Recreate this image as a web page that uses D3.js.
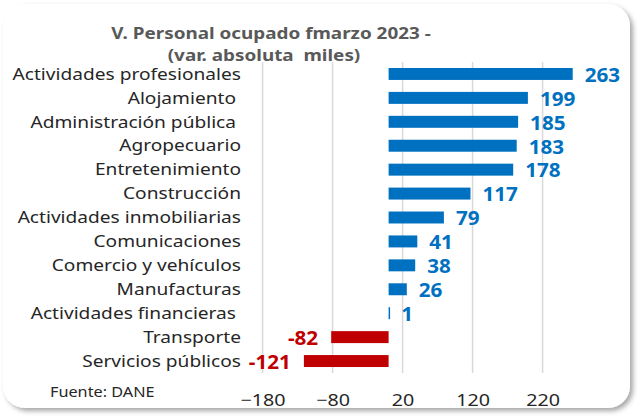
<!DOCTYPE html>
<html lang="en">
<head>
    <meta charset="utf-8">
    <title>Personal ocupado</title>
    <style>
        body{ margin:0; background:#fff; font-family: "Noto Sans", "Open Sans", sans-serif;}
        text{ white-space: pre; }
    </style>
    <script type="text/javascript" src="https://d3js.org/d3.v7.min.js"></script>
</head>
<body>
    <div class="chart"></div>

    <script type="text/javascript">
        // DATA ------------------------------
        const categories = ["Actividades profesionales", "Alojamiento ", "Administración pública ",
            "Agropecuario", "Entretenimiento", "Construcción", "Actividades inmobiliarias",
            "Comunicaciones", "Comercio y vehículos", "Manufacturas", "Actividades financieras ",
            "Transporte", "Servicios públicos"];
        const values = [263, 199, 185, 183, 178, 117, 79, 41, 38, 26, 1, -82, -121];
        const tickValues = [-180, -80, 20, 120, 220];
        const titleLines = ["V. Personal ocupado fmarzo 2023 -", "(var. absoluta  miles)"];
        const source = "Fuente: DANE";

        const data = categories.map((c, i) => ({cat: c, val: values[i]}));

        // CHART INIT ------------------------------
        const W = 639, H = 418;
        const plot = {left: 262.6, right: 598.6, top: 62, bottom: 373};
        const sx = 1.16; // the source text is a bit wider than it is tall

        // stretch text horizontally around its own x
        function stretch(sel, k) {
            sel.attr("transform", function() {
                const x = +d3.select(this).attr("x") || 0;
                const y = +d3.select(this).attr("y") || 0;
                return `translate(${x},${y}) scale(${k},1) translate(${-x},${-y})`;
            });
        }

        var svg = d3.select(".chart")
            .append("svg")
            .attr("width", W)
            .attr("height", H);

        // card with shadow
        var defs = svg.append("defs");
        var f = defs.append("filter").attr("id", "shadow")
            .attr("x", "-5%").attr("y", "-5%").attr("width", "110%").attr("height", "110%");
        f.append("feDropShadow")
            .attr("dx", 3).attr("dy", 3).attr("stdDeviation", 2.5)
            .attr("flood-color", "#000").attr("flood-opacity", 0.35);

        svg.append("rect")
            .attr("x", 3).attr("y", 4)
            .attr("width", 627).attr("height", 404)
            .attr("rx", 22)
            .attr("fill", "#fff")
            .attr("filter", "url(#shadow)");

        // scales
        var xScale = d3.scaleLinear()
            .domain([-180, 300])
            .range([plot.left, plot.right]);

        var yScale = d3.scaleBand()
            .domain(categories)
            .range([plot.top, plot.bottom])
            .paddingInner(0.5)
            .paddingOuter(0.25);

        // gridlines
        svg.append("g")
            .selectAll("line")
            .data(tickValues)
            .join("line")
            .attr("x1", d => xScale(d))
            .attr("x2", d => xScale(d))
            .attr("y1", plot.top)
            .attr("y2", plot.bottom)
            .attr("stroke", "#d9d9d9")
            .attr("stroke-width", 1.5);

        // x axis (labels only)
        const xAxis = d3.axisBottom(xScale)
            .tickValues(tickValues)
            .tickSize(0)
            .tickPadding(0);

        var xAxisDisplay = svg.append("g")
            .attr("class", "axis x-axis")
            .attr("transform", `translate(0, 394)`)
            .call(xAxis);
        xAxisDisplay.select(".domain").remove();
        xAxisDisplay.selectAll("text")
            .attr("font-family", "Noto Sans")
            .attr("font-size", 17)
            .attr("fill", "#262626")
            .attr("dy", "0.72em")
            .attr("transform", `scale(${sx},1)`);

        // bars
        svg.append("g")
            .selectAll("rect")
            .data(data)
            .join("rect")
            .attr("x", d => xScale(Math.min(0, d.val)))
            .attr("y", d => yScale(d.cat))
            .attr("width", d => Math.max(1.5, Math.abs(xScale(d.val) - xScale(0))))
            .attr("height", yScale.bandwidth())
            .attr("fill", d => d.val < 0 ? "#c00000" : "#0070c0");

        // value labels
        svg.append("g")
            .selectAll("text")
            .data(data)
            .join("text")
            .attr("x", d => d.val < 0 ? xScale(d.val) - 13 : xScale(d.val) + 12)
            .attr("y", d => yScale(d.cat) + yScale.bandwidth() / 2 + 1)
            .attr("dy", "0.35em")
            .attr("text-anchor", d => d.val < 0 ? "end" : "start")
            .attr("font-size", 19.5)
            .attr("font-weight", "bold")
            .attr("fill", d => d.val < 0 ? "#c00000" : "#0070c0")
            .text(d => d.val)
            .call(stretch, 1.06);

        // category labels
        svg.append("g")
            .selectAll("text")
            .data(data)
            .join("text")
            .attr("x", 241)
            .attr("y", d => yScale(d.cat) + yScale.bandwidth() / 2)
            .attr("dy", "0.35em")
            .attr("text-anchor", "end")
            .attr("font-size", 16.5)
            .attr("fill", "#262626")
            .text(d => d.cat)
            .call(stretch, sx);

        // title
        svg.append("g")
            .selectAll("text")
            .data(titleLines)
            .join("text")
            .attr("x", (d, i) => i == 0 ? 271 : 264)
            .attr("y", (d, i) => 39 + i * 22)
            .attr("text-anchor", "middle")
            .attr("font-size", 16)
            .attr("font-weight", "bold")
            .attr("fill", "#595959")
            .text(d => d)
            .call(stretch, 1.18);

        // source
        svg.append("text")
            .attr("x", 50)
            .attr("y", 392)
            .attr("dy", "0.35em")
            .attr("font-size", 14)
            .attr("fill", "#262626")
            .text(source)
            .call(stretch, sx);
    </script>
</body>
</html>
